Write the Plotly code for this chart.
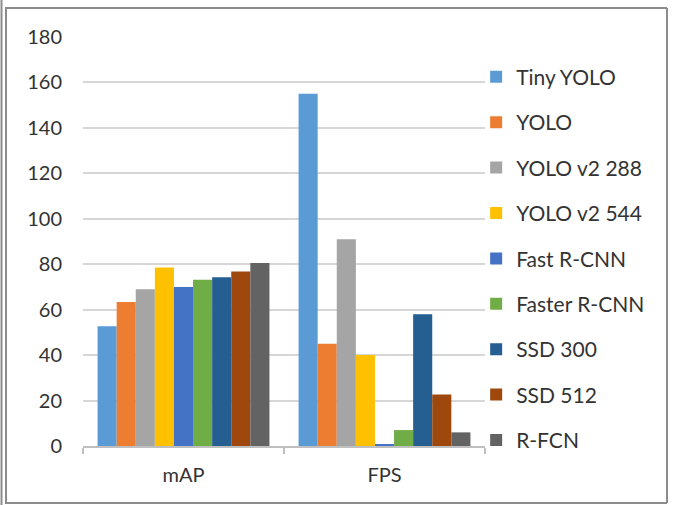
import plotly.graph_objects as go

# Detector comparison: accuracy (mAP) and speed (FPS)
categories = ["mAP", "FPS"]
models = ["Tiny YOLO", "YOLO", "YOLO v2 288", "YOLO v2 544", "Fast R-CNN",
          "Faster R-CNN", "SSD 300", "SSD 512", "R-FCN"]
map_values = [52.7, 63.4, 69.0, 78.6, 70.0, 73.2, 74.3, 76.8, 80.5]
fps_values = [155, 45, 91, 40, 0.5, 7, 58, 22.7, 6]
colors = ["#5B9BD5", "#ED7D31", "#A5A5A5", "#FFC000", "#4472C4",
          "#70AD47", "#255E91", "#9E480E", "#636363"]
y_ticks = [0, 20, 40, 60, 80, 100, 120, 140, 160, 180]

W, H = 678, 505
L, R, T, B = 83, 193, 37, 59
pw, ph = W - L - R, H - T - B

fig = go.Figure()
for i, name in enumerate(models):
    fig.add_trace(go.Bar(
        x=categories,
        y=[map_values[i], fps_values[i]],
        name=name,
        legendgroup=name,
        marker=dict(color=colors[i], line=dict(width=0)),
    ))

font_family = "Lato, 'Open Sans', sans-serif"
text_color = "#333333"
fig.update_layout(
    width=W, height=H,
    margin=dict(l=L, r=R, t=T, b=B),
    paper_bgcolor="white",
    plot_bgcolor="white",
    barmode="group",
    bargap=0.145,
    bargroupgap=0,
    font=dict(family=font_family, size=20, color=text_color),
    showlegend=True,
    legend=dict(
        x=0.978, xanchor="left",
        y=0.952, yanchor="top",
        tracegroupgap=15.1,
        maxheight=505,
        bgcolor="rgba(0,0,0,0)",
        font=dict(family=font_family, size=21, color=text_color),
        itemclick=False,
    ),
    xaxis=dict(
        type="category",
        showgrid=False,
        showline=True, linecolor="#BFBFBF", linewidth=1.5,
        ticks="outside", tickson="boundaries", ticklen=6, tickcolor="#BFBFBF",
        tickwidth=1.5,
        tickfont=dict(size=20, color=text_color),
        ticklabelstandoff=10,
        zeroline=False,
    ),
    yaxis=dict(
        range=[0, 180],
        tickvals=y_ticks,
        showgrid=True, gridcolor="#D6D6D6", gridwidth=1.5,
        showline=False, zeroline=False,
        tickfont=dict(size=20, color=text_color),
        ticklabelstandoff=20,
    ),
)

# Chart frame (pixel positions converted to paper coordinates)
def px(x):
    return (x - L) / pw

def py(y):
    return (H - B - y) / ph

frame = dict(type="line", xref="paper", yref="paper",
             line=dict(color="#8C8C8C", width=2))
fig.add_shape(frame, x0=px(5), y0=py(8), x1=px(667), y1=py(8))
fig.add_shape(frame, x0=px(667), y0=py(8), x1=px(667), y1=py(503))
fig.add_shape(frame, x0=px(5), y0=py(503), x1=px(667), y1=py(503))
fig.add_shape(frame, x0=px(6), y0=py(8), x1=px(6), y1=py(503))
fig.add_shape(frame, x0=px(1.5), y0=py(0), x1=px(1.5), y1=py(505))

fig.write_html("out.html")
